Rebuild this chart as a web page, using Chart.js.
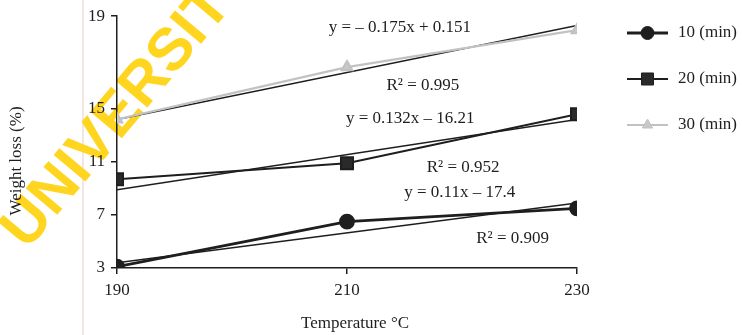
<!DOCTYPE html>
<html>
<head>
<meta charset="utf-8">
<script src="https://cdn.jsdelivr.net/npm/chart.js@4/dist/chart.umd.min.js"></script>
<style>
  html, body { margin: 0; padding: 0; background: #ffffff; }
  #wrap { width: 742px; height: 335px; }
</style>
</head>
<body>
<div id="wrap"><canvas id="c" width="742" height="335"></canvas></div>
<script>
// Weight loss (%) against temperature for three drying times
const temperatures = [190, 210, 230];
const loss10 = [3.1, 6.5, 7.5];
const loss20 = [9.7, 10.9, 14.6];
const loss30 = [14.2, 16.8, 18.4];

// Fitted straight lines, end values at 190 and 230 °C
const trendTemps = [190, 230];
const trend10 = [3.4, 7.9];
const trend20 = [8.9, 14.2];
const trend30 = [14.2, 18.6];

const yTicks = [3, 7, 11, 15, 19];
const seriesNames = ['10 (min)', '20 (min)', '30 (min)'];
const fitTexts = ['y = \u2013 0.175x + 0.151', 'R\u00b2 = 0.995',
                  'y = 0.132x \u2013 16.21', 'R\u00b2 = 0.952',
                  'y = 0.11x \u2013 17.4', 'R\u00b2 = 0.909'];
const xTitle = 'Temperature \u00b0C';
const yTitle = 'Weight loss (%)';

const SERIF = '"Liberation Serif", "DejaVu Serif", serif';
const INK = '#1e1e1e';

// The value axis has a wider step between 15 and 19 than below it
const yKnots = [[3, 0], [15, 0.632], [19, 1]];
function valueToDecimal(v) {
  for (let i = 1; i < yKnots.length; i++) {
    const [v0, d0] = yKnots[i - 1], [v1, d1] = yKnots[i];
    if (v <= v1 || i === yKnots.length - 1) return d0 + (v - v0) / (v1 - v0) * (d1 - d0);
  }
}
function decimalToValue(d) {
  for (let i = 1; i < yKnots.length; i++) {
    const [v0, d0] = yKnots[i - 1], [v1, d1] = yKnots[i];
    if (d <= d1 || i === yKnots.length - 1) return v0 + (d - d0) / (d1 - d0) * (v1 - v0);
  }
}
class SplitLinearScale extends Chart.LinearScale {
  getPixelForValue(value) {
    return value === null ? NaN : this.getPixelForDecimal(valueToDecimal(value));
  }
  getValueForPixel(pixel) {
    return decimalToValue(this.getDecimalForPixel(pixel));
  }
}
SplitLinearScale.id = 'splitLinear';
SplitLinearScale.defaults = { ticks: { callback: (v) => String(v) } };
Chart.register(SplitLinearScale);

const pts = (xs, ys) => xs.map((x, i) => ({ x, y: ys[i] }));

const series = [
  { label: seriesNames[0], data: pts(temperatures, loss10), borderColor: INK, backgroundColor: INK,
    borderWidth: 2.8, pointStyle: 'circle', pointRadius: 6.5, order: 1 },
  { label: seriesNames[1], data: pts(temperatures, loss20), borderColor: INK, backgroundColor: '#2a2a2a',
    borderWidth: 2, pointStyle: 'rect', pointRadius: 8.5, order: 1 },
  { label: seriesNames[2], data: pts(temperatures, loss30), borderColor: '#c2c2c2', backgroundColor: '#c8c8c8',
    borderWidth: 2.2, pointStyle: 'triangle', pointRadius: 6, order: 1 }
];
const trends = [trend10, trend20, trend30].map((t) => ({
  label: 'fit', data: pts(trendTemps, t), borderColor: INK, borderWidth: 1.6,
  pointRadius: 0, order: 2
}));

// Equation and R² labels, anchored in data coordinates
const fitLabelAnchors = [
  { x: 214.6, y: 18.5 }, { x: 216.6, y: 16.0 },
  { x: 215.5, y: 14.25 }, { x: 220.1, y: 10.6 },
  { x: 219.8, y: 8.7 }, { x: 224.4, y: 5.25 }
];

const backdrop = {
  id: 'backdrop',
  beforeDraw(chart) {
    const ctx = chart.ctx;
    ctx.save();
    // faint vertical rule left of the axis
    ctx.strokeStyle = '#f2dede';
    ctx.lineWidth = 1.5;
    ctx.beginPath();
    ctx.moveTo(83, 0);
    ctx.lineTo(83, 335);
    ctx.stroke();
    // diagonal watermark
    ctx.translate(27, 251);
    ctx.rotate(-50 * Math.PI / 180);
    ctx.font = 'bold 60px "Liberation Sans", Arial, sans-serif';
    ctx.fillStyle = '#ffd520';
    ctx.textBaseline = 'alphabetic';
    ctx.fillText('UNIVERSITY', 0, 0);
    ctx.restore();
  }
};

const textLayer = {
  id: 'textLayer',
  afterDatasetsDraw(chart) {
    const { ctx, scales: { x, y } } = chart;
    ctx.save();
    ctx.font = '17px ' + SERIF;
    ctx.fillStyle = INK;
    ctx.textAlign = 'center';
    ctx.textBaseline = 'middle';
    fitTexts.forEach((t, i) => {
      const a = fitLabelAnchors[i];
      ctx.fillText(t, x.getPixelForValue(a.x), y.getPixelForValue(a.y));
    });
    // axis titles
    ctx.fillText(xTitle, 355, 324);
    ctx.translate(17, 161);
    ctx.rotate(-Math.PI / 2);
    ctx.fillText(yTitle, 0, 0);
    ctx.restore();
  }
};

// Legend drawn as a short line with its marker, beside the plot
const sideLegend = {
  id: 'sideLegend',
  afterDraw(chart) {
    const ctx = chart.ctx;
    const x0 = 627, x1 = 668, textX = 678, top = 33, gap = 46;
    ctx.save();
    series.forEach((s, i) => {
      const yy = top + i * gap;
      ctx.strokeStyle = s.borderColor;
      ctx.lineWidth = s.borderWidth;
      ctx.beginPath();
      ctx.moveTo(x0, yy);
      ctx.lineTo(x1, yy);
      ctx.stroke();
      ctx.fillStyle = s.backgroundColor;
      ctx.lineWidth = 1;
      Chart.helpers.drawPoint(ctx, { pointStyle: s.pointStyle, radius: s.pointRadius, borderWidth: 1, rotation: 0 },
        (x0 + x1) / 2, yy);
      ctx.fillStyle = INK;
      ctx.font = '17px ' + SERIF;
      ctx.textAlign = 'left';
      ctx.textBaseline = 'middle';
      ctx.fillText(s.label, textX, yy);
    });
    ctx.restore();
  }
};

new Chart(document.getElementById('c'), {
  type: 'line',
  data: { datasets: [...series, ...trends] },
  options: {
    responsive: false,
    animation: false,
    devicePixelRatio: 1,
    layout: { padding: { left: 0, top: 15, right: 165, bottom: 0 } },
    elements: { line: { tension: 0 }, point: { borderWidth: 1 } },
    plugins: { legend: { display: false }, tooltip: { enabled: false } },
    scales: {
      x: {
        type: 'linear', min: 190, max: 230,
        afterBuildTicks: (s) => { s.ticks = temperatures.map((v) => ({ value: v })); },
        afterFit: (s) => { s.height = 67; },
        grid: { drawOnChartArea: false, drawTicks: true, tickLength: 6, color: INK, lineWidth: 1.5 },
        border: { display: true, color: INK, width: 1.5 },
        ticks: { color: INK, padding: 6, font: { family: SERIF, size: 17 }, callback: (v) => String(v) },
        title: { display: false }
      },
      y: {
        type: 'splitLinear', min: 3, max: 19,
        afterBuildTicks: (s) => { s.ticks = yTicks.map((v) => ({ value: v })); },
        afterFit: (s) => { s.width = 117; },
        grid: { drawOnChartArea: false, drawTicks: true, tickLength: 6, color: INK, lineWidth: 1.5 },
        border: { display: true, color: INK, width: 1.5 },
        ticks: { color: INK, padding: 6, font: { family: SERIF, size: 17 } },
        title: { display: false }
      }
    }
  },
  plugins: [backdrop, textLayer, sideLegend]
});
</script>
</body>
</html>
